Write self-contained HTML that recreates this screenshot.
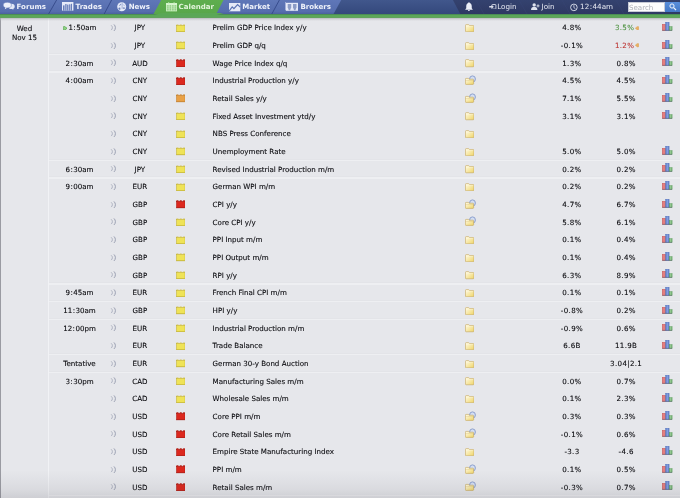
<!DOCTYPE html>
<html><head><meta charset="utf-8"><title>Calendar</title>
<style>
*{margin:0;padding:0;box-sizing:border-box}
html,body{width:680px;height:498px;overflow:hidden;background:#e6e7eb}
body{position:relative;font-family:"DejaVu Sans","Liberation Sans",sans-serif;font-size:7.1px;color:#08080c}
#nav{position:absolute;left:0;top:0;width:680px;height:14px;overflow:hidden}
#nav svg.bg{position:absolute;left:0;top:0}
.nt{position:absolute;top:0.3px;height:14px;line-height:14px;font-weight:bold;font-size:7.05px;color:#eef1fa;white-space:nowrap}
.nr{position:absolute;top:0;height:14px;line-height:14px;font-size:7.2px;color:#e6e9f2;white-space:nowrap}
.ni{position:absolute}
#green{position:absolute;left:0;top:13.6px;width:680px;height:4px;background:linear-gradient(#3f7452,#55a057 22%,#5eaa5a 45%,#5aa456 80%,#6a9f68)}
#shadow{position:absolute;left:0;top:17.6px;width:680px;height:3.9px;background:linear-gradient(rgba(170,170,176,.72),rgba(190,190,196,.45) 45%,rgba(230,231,235,0))}
#lb{position:absolute;left:0;top:17.7px;width:1px;height:481px;background:#9a9ba2}
#vl{position:absolute;left:48px;top:17.7px;width:1.1px;height:481px;background:#f1f2f5}
.date{position:absolute;left:1px;width:47px;top:23.6px;text-align:center;line-height:9.4px;font-size:7.1px;-webkit-text-stroke:0.1px currentColor}
.row{position:absolute;left:49px;width:631px;height:17.67px}
.c{position:absolute;top:0.5px;height:17.67px;line-height:17.67px;white-space:nowrap;-webkit-text-stroke:0.1px currentColor}
.time{left:0.5px;width:60px;text-align:center}
.nx{display:inline-block;width:4.6px;height:4.6px;margin-right:1.3px;vertical-align:-0.1px}
.snd{position:absolute;left:61.3px;top:5.2px}
.cur{left:70.4px;width:41px;text-align:center}
.imp{position:absolute;left:126.7px;top:4.9px}
.ev{left:163.6px}
.fold{position:absolute;left:415.5px;top:5.2px}
.fold.o{left:415.8px;top:3.4px}
.fc{left:502px;width:41.6px;text-align:center;letter-spacing:0.33px;text-indent:0.33px}
.pv{left:557px;width:40px;text-align:center;letter-spacing:0.33px;text-indent:0.33px}
.pv.g{color:#4f9342;padding-left:1.2px}
.pv.r{color:#bd3835;padding-left:1.2px}
.rev{display:inline-block;width:4px;height:4.4px;margin-left:0.4px;vertical-align:0px}
.gr{position:absolute;left:612.9px;top:3.3px}
.sep{position:absolute;left:0;right:0;bottom:-0.9px;height:1.1px;background:#eeeff2;box-shadow:0 -0.6px 0 #e1e2e6}
#lastsep{position:absolute;left:49px;width:631px;top:494.9px;height:1.1px;background:rgba(255,255,255,.35)}
#bfade{position:absolute;left:0;width:680px;top:470px;height:28px;background:linear-gradient(rgba(60,60,70,0),rgba(60,60,70,.04) 40%,rgba(60,60,70,.075) 70%,rgba(60,60,70,.1) 82%,rgba(60,60,70,.14))}
.cl{margin:0 0.42px}
</style></head><body>
<svg width="0" height="0" style="position:absolute"><defs>
<linearGradient id="fg" x1="0" y1="0" x2="1" y2="1"><stop offset="0" stop-color="#fffbe8"/><stop offset="0.4" stop-color="#f9ecb4"/><stop offset="1" stop-color="#efd567"/></linearGradient>
<linearGradient id="gR" x1="0" y1="0" x2="1" y2="0"><stop offset="0" stop-color="#d45c5c"/><stop offset="0.5" stop-color="#eb8c8c"/><stop offset="1" stop-color="#d66464"/></linearGradient>
<linearGradient id="gB" x1="0" y1="0" x2="1" y2="0"><stop offset="0" stop-color="#5478c8"/><stop offset="0.5" stop-color="#86a2e0"/><stop offset="1" stop-color="#5a78c4"/></linearGradient>
<linearGradient id="gG" x1="0" y1="0" x2="1" y2="0"><stop offset="0" stop-color="#62a862"/><stop offset="0.5" stop-color="#98cc96"/><stop offset="1" stop-color="#64a664"/></linearGradient>
</defs></svg>
<div id="nav">
<svg class="bg" width="680" height="14" viewBox="0 0 680 14">
<defs>
<linearGradient id="nb" x1="0" y1="0" x2="0" y2="1"><stop offset="0" stop-color="#5f77b8"/><stop offset="0.82" stop-color="#566dae"/><stop offset="1" stop-color="#4b619f"/></linearGradient>
<linearGradient id="nm" x1="0" y1="0" x2="0" y2="1"><stop offset="0" stop-color="#41578c"/><stop offset="1" stop-color="#34487c"/></linearGradient>
<linearGradient id="nd" x1="0" y1="0" x2="0" y2="1"><stop offset="0" stop-color="#34426f"/><stop offset="1" stop-color="#2e3963"/></linearGradient>
<linearGradient id="ng" x1="0" y1="0" x2="0" y2="1"><stop offset="0" stop-color="#5fae4e"/><stop offset="1" stop-color="#58a64a"/></linearGradient>
</defs>
<rect width="680" height="14" fill="url(#nd)"/>
<polygon points="0,0 452.9,0 460.3,14 0,14" fill="url(#nm)"/>
<polygon points="0,0 341.2,0 333.5,14 0,14" fill="url(#nb)"/>
<polygon points="161.2,0 223.5,0 216.2,14 153.5,14" fill="url(#ng)"/>
<g stroke="#2f4283" stroke-width="0.8">
<line x1="56.6" y1="0" x2="48.6" y2="14"/>
<line x1="111.6" y1="0" x2="104.2" y2="14"/>
<line x1="279.4" y1="0" x2="271.8" y2="14"/>
</g>
<g stroke="#3a4676" stroke-width="0.7" opacity="0.6">
<line x1="476" y1="0" x2="484" y2="14"/>
<line x1="519" y1="0" x2="527" y2="14"/>
<line x1="562" y1="0" x2="570" y2="14"/>
<line x1="616" y1="0" x2="624" y2="14"/>
</g>
</svg>
<!-- Forums icon -->
<svg class="ni" style="left:3.3px;top:2.4px" width="12" height="8" viewBox="0 0 12 8">
<ellipse cx="8.6" cy="4.4" rx="3.1" ry="2.6" fill="#e3e8f6"/>
<path d="M9.6 6.4L10.6 7.7L8.4 6.8Z" fill="#e3e8f6"/>
<ellipse cx="4.3" cy="3.1" rx="4.1" ry="2.8" fill="#edf0fa" stroke="#5f77b8" stroke-width="0.5"/>
<path d="M2.2 5.2L1.8 7.3L4.2 5.8Z" fill="#edf0fa"/>
</svg>
<div class="nt" style="left:16.6px">Forums</div>
<!-- Trades icon -->
<svg class="ni" style="left:61.6px;top:2.4px" width="12" height="9" viewBox="0 0 12 9">
<rect x="0" y="0" width="11.4" height="8.6" fill="#e6eaf8"/>
<g fill="#5a72b3"><rect x="1.1" y="3.4" width="1.4" height="5.2"/><rect x="3.3" y="2.0" width="1.2" height="6.6"/><rect x="5.2" y="2.6" width="1.2" height="6"/><rect x="7.2" y="2.3" width="1.2" height="6.3"/><rect x="9.1" y="1.8" width="0.9" height="6.8"/></g>
</svg>
<div class="nt" style="left:75.6px">Trades</div>
<!-- News globe -->
<svg class="ni" style="left:116.9px;top:2.2px" width="10" height="10" viewBox="0 0 10 10">
<circle cx="4.7" cy="4.8" r="4.5" fill="#e4e9f8"/>
<g fill="#6a7fb8"><path d="M1.4 6.1Q2.3 5.3 3.4 5.8L3.3 7.8Q2.2 7.7 1.6 6.9Z"/><path d="M5.8 5.6Q7 5.2 8.2 5.7L7.9 6.6Q6.8 6.9 5.9 6.5Z"/><path d="M2.2 3.4L3.8 1.7L4.3 2.2L2.7 3.9Z"/></g>
<path d="M5.1 0.8V6.8" stroke="#7a8ec4" stroke-width="0.6"/>
<path d="M5.5 2.2Q7 2.8 7.8 4.2" stroke="#8a9cce" stroke-width="0.5" fill="none"/>
</svg>
<div class="nt" style="left:128.7px">News</div>
<!-- Calendar icon -->
<svg class="ni" style="left:165.8px;top:1.7px" width="11.2" height="10" viewBox="0 0 11.2 10">
<rect x="0" y="1.1" width="11" height="8.3" fill="#c6ecbb"/>
<rect x="0" y="1.1" width="11" height="1.9" fill="#d8f5cf"/>
<rect x="2.2" y="0.2" width="1" height="1.6" fill="#c6ecbb"/><rect x="7.6" y="0.2" width="1" height="1.6" fill="#c6ecbb"/>
<g fill="#7cbf70"><rect x="1.1" y="3.4" width="1.5" height="1.05"/><rect x="3.6" y="3.4" width="1.5" height="1.05"/><rect x="6.1" y="3.4" width="1.5" height="1.05"/><rect x="8.6" y="3.4" width="1.5" height="1.05"/><rect x="1.1" y="5.4" width="1.5" height="1.05"/><rect x="3.6" y="5.4" width="1.5" height="1.05"/><rect x="6.1" y="5.4" width="1.5" height="1.05"/><rect x="8.6" y="5.4" width="1.5" height="1.05"/><rect x="1.1" y="7.3" width="1.5" height="1.05"/><rect x="3.6" y="7.3" width="1.5" height="1.05"/><rect x="6.1" y="7.3" width="1.5" height="1.05"/><rect x="8.6" y="7.3" width="1.5" height="1.05"/></g>
</svg>
<div class="nt" style="left:178.6px;color:#e2f4da">Calendar</div>
<!-- Market icon -->
<svg class="ni" style="left:228.8px;top:2.6px" width="12" height="9" viewBox="0 0 12 9">
<rect x="0" y="0" width="11.3" height="8.3" fill="#e6eaf8"/>
<polyline points="0.2,7.9 3.2,3.9 4.9,5.6 8.6,1.5 11.3,4.2" fill="none" stroke="#5a72b3" stroke-width="1.2"/>
</svg>
<div class="nt" style="left:242.2px">Market</div>
<!-- Brokers icon -->
<svg class="ni" style="left:285.2px;top:2.2px" width="14" height="9" viewBox="0 0 14 9">
<rect x="0" y="0" width="0.6" height="8.2" fill="#c9d1ec"/>
<rect x="0.9" y="0.8" width="12.1" height="8" fill="#e6eaf8"/>
<g fill="#8c9cc6"><path d="M2.7 2H6.2V5.3L5.1 8.2H3.8L2.7 5.3Z"/><path d="M8 2H11.5V5.3L10.4 8.2H9.1L8 5.3Z"/></g>
</svg>
<div class="nt" style="left:300.4px">Brokers</div>
<!-- Bell -->
<svg class="ni" style="left:464.9px;top:1.9px" width="8" height="9.2" viewBox="0 0 9 9" preserveAspectRatio="none">
<path d="M4.4 0.3c-.5 0-.8.3-.8.7-1.6.4-2.2 1.7-2.2 3.2v1.8l-1 1.2v.4h8.2v-.4l-1-1.2v-1.8c0-1.5-.6-2.8-2.2-3.2 0-.4-.3-.7-1-.7z" fill="#eceff8"/>
<path d="M3.4 7.9a1 1 0 0 0 2 0z" fill="#eceff8"/>
</svg>
<!-- Login icon -->
<svg class="ni" style="left:489.2px;top:3.9px" width="7.4" height="5.6" viewBox="0 0 7.4 5.6">
<path d="M3.2 0.5H6.4Q6.9 0.5 6.9 1V4.6Q6.9 5.1 6.4 5.1H3.2" fill="none" stroke="#d9dde9" stroke-width="0.9"/>
<path d="M0.2 2H2.4V0.6L4.8 2.8L2.4 5V3.6H0.2Z" fill="#d9dde9"/>
</svg>
<div class="nr" style="left:497.2px">Login</div>
<!-- Join icon -->
<svg class="ni" style="left:530.8px;top:3.2px" width="9" height="7" viewBox="0 0 9 7">
<circle cx="3.2" cy="1.9" r="1.7" fill="#dfe3ef"/>
<path d="M0 7c0-2.2 1.4-3.2 3.2-3.2s3.2 1 3.2 3.2z" fill="#dfe3ef"/>
<path d="M7 1.4v3M5.5 2.9h3" stroke="#dfe3ef" stroke-width="0.9"/>
</svg>
<div class="nr" style="left:541.6px">Join</div>
<!-- Clock -->
<svg class="ni" style="left:570.4px;top:2.6px" width="8" height="9" viewBox="0 0 8 9">
<circle cx="3.9" cy="4.4" r="3.3" fill="none" stroke="#dfe3ef" stroke-width="0.9"/>
<path d="M3.9 2.2v2.4l1.5 1.1" fill="none" stroke="#dfe3ef" stroke-width="0.8"/>
</svg>
<div class="nr" style="left:580.1px">12<span class="cl">:</span>44am</div>
<!-- Search -->
<div style="position:absolute;left:627.6px;top:1.8px;width:37.2px;height:9.9px;background:#fdfdfd;border:0.5px solid #c8cbd6"></div>
<div style="position:absolute;left:629px;top:2.6px;height:9.7px;line-height:9.7px;font-size:7.1px;color:#aeb0b8">Search</div>
<div style="position:absolute;left:665.4px;top:1.8px;width:16px;height:9.9px;background:linear-gradient(#5a8fdc,#4377c6);border-radius:0 2px 2px 0"></div>
<svg class="ni" style="left:668.6px;top:2.8px" width="8" height="8" viewBox="0 0 8 8">
<circle cx="3" cy="3" r="2.1" fill="none" stroke="#f0f4fc" stroke-width="1"/>
<path d="M4.6 4.6l2.4 2.4" stroke="#f0f4fc" stroke-width="1.2"/>
</svg>
</div>
<div id="green"></div>
<svg style="position:absolute;left:0;top:0" width="680" height="16" viewBox="0 0 680 16"><polygon points="161.2,13 223.5,13 215.7,15.2 153.4,15.2" fill="#5aa755"/></svg>
<div id="lb"></div>
<div id="vl"></div>
<div class="date">Wed<br>Nov 15</div>
<div class="row" style="top:18.66px"><div class="c time"><svg class="nx" viewBox="0 0 5 5"><path d="M0.7 0.5H1.6L4.5 2.5L1.6 4.5H0.7Z" fill="#98d68c" stroke="#4fa646" stroke-width="0.8" stroke-linejoin="round"/></svg>1<span class="cl">:</span>50am</div><svg class="snd" width="6.5" height="7.4" viewBox="0 0 6.5 7.4"><path d="M1.15 1.3A3 3 0 0 1 1.15 6.1" fill="none" stroke="#a0a5b6" stroke-width="0.8"/><path d="M3.94 0.43A4.4 4.4 0 0 1 3.94 6.97" fill="none" stroke="#959bae" stroke-width="0.95"/></svg><div class="c cur">JPY</div><svg class="imp" width="9.6" height="8.4" viewBox="0 0 9.6 8.4"><g fill="#efe357" stroke="#bdaa2e" stroke-width="0.45" opacity="0.55"><path d="M0.5 1.6V0.9Q0.5 0.5 0.9 0.5H2Q2.4 0.5 2.4 0.9V1.6Z"/><path d="M3.8 1.6V0.9Q3.8 0.5 4.2 0.5H5.3Q5.7 0.5 5.7 0.9V1.6Z"/><path d="M7.1 1.6V0.9Q7.1 0.5 7.5 0.5H8.6Q9 0.5 9 0.9V1.6Z"/></g><rect x="0.45" y="1.35" width="8.6" height="6.55" fill="#efe357" stroke="#bdaa2e" stroke-width="0.5"/><rect x="0.7" y="7.2" width="8.1" height="0.6" fill="#bdaa2e" opacity="0.6"/></svg><div class="c ev">Prelim GDP Price Index y/y</div><svg class="fold" width="9.6" height="8.4" viewBox="0 0 10 8.4" preserveAspectRatio="none"><path d="M1.3 0.6H3.6Q4 0.6 4.3 1L4.7 1.5H8.4Q9.3 1.5 9.3 2.4V7Q9.3 7.8 8.4 7.8H1.3Q0.5 7.8 0.5 7V1.4Q0.5 0.6 1.3 0.6Z" fill="url(#fg)" stroke="#c2a259" stroke-width="0.6"/><path d="M1.2 2.2H8.6" stroke="#fffbe8" stroke-width="0.5" opacity="0.7"/></svg><div class="c fc">4.8%</div><div class="c pv g">3.5%<svg class="rev" viewBox="0 0 4.3 4.6"><path d="M0.3 2.3L2.5 0.4H3.3Q4 0.4 4 1.1V3.5Q4 4.2 3.3 4.2H2.5Z" fill="#e9b061" stroke="#d4974a" stroke-width="0.4"/></svg></div><svg class="gr" width="11" height="9" viewBox="0 0 11 9"><rect x="0.35" y="2.2" width="3.2" height="6.3" fill="url(#gR)" stroke="#c04848" stroke-width="0.35"/><rect x="3.6" y="0.1" width="3.5" height="8.4" fill="url(#gB)" stroke="#4a68b4" stroke-width="0.35"/><rect x="7.2" y="4.5" width="2.9" height="4" fill="url(#gG)" stroke="#4f944f" stroke-width="0.35"/><rect x="0.2" y="7.9" width="10" height="0.8" fill="#3c3f55" opacity="0.5"/></svg></div>
<div class="row" style="top:36.33px"><svg class="snd" width="6.5" height="7.4" viewBox="0 0 6.5 7.4"><path d="M1.15 1.3A3 3 0 0 1 1.15 6.1" fill="none" stroke="#a0a5b6" stroke-width="0.8"/><path d="M3.94 0.43A4.4 4.4 0 0 1 3.94 6.97" fill="none" stroke="#959bae" stroke-width="0.95"/></svg><div class="c cur">JPY</div><svg class="imp" width="9.6" height="8.4" viewBox="0 0 9.6 8.4"><g fill="#efe357" stroke="#bdaa2e" stroke-width="0.45" opacity="0.55"><path d="M0.5 1.6V0.9Q0.5 0.5 0.9 0.5H2Q2.4 0.5 2.4 0.9V1.6Z"/><path d="M3.8 1.6V0.9Q3.8 0.5 4.2 0.5H5.3Q5.7 0.5 5.7 0.9V1.6Z"/><path d="M7.1 1.6V0.9Q7.1 0.5 7.5 0.5H8.6Q9 0.5 9 0.9V1.6Z"/></g><rect x="0.45" y="1.35" width="8.6" height="6.55" fill="#efe357" stroke="#bdaa2e" stroke-width="0.5"/><rect x="0.7" y="7.2" width="8.1" height="0.6" fill="#bdaa2e" opacity="0.6"/></svg><div class="c ev">Prelim GDP q/q</div><svg class="fold" width="9.6" height="8.4" viewBox="0 0 10 8.4" preserveAspectRatio="none"><path d="M1.3 0.6H3.6Q4 0.6 4.3 1L4.7 1.5H8.4Q9.3 1.5 9.3 2.4V7Q9.3 7.8 8.4 7.8H1.3Q0.5 7.8 0.5 7V1.4Q0.5 0.6 1.3 0.6Z" fill="url(#fg)" stroke="#c2a259" stroke-width="0.6"/><path d="M1.2 2.2H8.6" stroke="#fffbe8" stroke-width="0.5" opacity="0.7"/></svg><div class="c fc">-0.1%</div><div class="c pv r">1.2%<svg class="rev" viewBox="0 0 4.3 4.6"><path d="M0.3 2.3L2.5 0.4H3.3Q4 0.4 4 1.1V3.5Q4 4.2 3.3 4.2H2.5Z" fill="#e9b061" stroke="#d4974a" stroke-width="0.4"/></svg></div><svg class="gr" width="11" height="9" viewBox="0 0 11 9"><rect x="0.35" y="2.2" width="3.2" height="6.3" fill="url(#gR)" stroke="#c04848" stroke-width="0.35"/><rect x="3.6" y="0.1" width="3.5" height="8.4" fill="url(#gB)" stroke="#4a68b4" stroke-width="0.35"/><rect x="7.2" y="4.5" width="2.9" height="4" fill="url(#gG)" stroke="#4f944f" stroke-width="0.35"/><rect x="0.2" y="7.9" width="10" height="0.8" fill="#3c3f55" opacity="0.5"/></svg><div class="sep"></div></div>
<div class="row" style="top:54.00px"><div class="c time">2<span class="cl">:</span>30am</div><svg class="snd" width="6.5" height="7.4" viewBox="0 0 6.5 7.4"><path d="M1.15 1.3A3 3 0 0 1 1.15 6.1" fill="none" stroke="#a0a5b6" stroke-width="0.8"/><path d="M3.94 0.43A4.4 4.4 0 0 1 3.94 6.97" fill="none" stroke="#959bae" stroke-width="0.95"/></svg><div class="c cur">AUD</div><svg class="imp" width="9.6" height="8.4" viewBox="0 0 9.6 8.4"><g fill="#dc281e" stroke="#a3160e" stroke-width="0.45" opacity="1"><path d="M0.5 1.6V0.9Q0.5 0.5 0.9 0.5H2Q2.4 0.5 2.4 0.9V1.6Z"/><path d="M3.8 1.6V0.9Q3.8 0.5 4.2 0.5H5.3Q5.7 0.5 5.7 0.9V1.6Z"/><path d="M7.1 1.6V0.9Q7.1 0.5 7.5 0.5H8.6Q9 0.5 9 0.9V1.6Z"/></g><rect x="0.45" y="1.35" width="8.6" height="6.55" fill="#dc281e" stroke="#a3160e" stroke-width="0.5"/><rect x="0.7" y="7.2" width="8.1" height="0.6" fill="#a3160e" opacity="0.6"/></svg><div class="c ev">Wage Price Index q/q</div><svg class="fold" width="9.6" height="8.4" viewBox="0 0 10 8.4" preserveAspectRatio="none"><path d="M1.3 0.6H3.6Q4 0.6 4.3 1L4.7 1.5H8.4Q9.3 1.5 9.3 2.4V7Q9.3 7.8 8.4 7.8H1.3Q0.5 7.8 0.5 7V1.4Q0.5 0.6 1.3 0.6Z" fill="url(#fg)" stroke="#c2a259" stroke-width="0.6"/><path d="M1.2 2.2H8.6" stroke="#fffbe8" stroke-width="0.5" opacity="0.7"/></svg><div class="c fc">1.3%</div><div class="c pv">0.8%</div><svg class="gr" width="11" height="9" viewBox="0 0 11 9"><rect x="0.35" y="2.2" width="3.2" height="6.3" fill="url(#gR)" stroke="#c04848" stroke-width="0.35"/><rect x="3.6" y="0.1" width="3.5" height="8.4" fill="url(#gB)" stroke="#4a68b4" stroke-width="0.35"/><rect x="7.2" y="4.5" width="2.9" height="4" fill="url(#gG)" stroke="#4f944f" stroke-width="0.35"/><rect x="0.2" y="7.9" width="10" height="0.8" fill="#3c3f55" opacity="0.5"/></svg><div class="sep"></div></div>
<div class="row" style="top:71.67px"><div class="c time">4<span class="cl">:</span>00am</div><svg class="snd" width="6.5" height="7.4" viewBox="0 0 6.5 7.4"><path d="M1.15 1.3A3 3 0 0 1 1.15 6.1" fill="none" stroke="#a0a5b6" stroke-width="0.8"/><path d="M3.94 0.43A4.4 4.4 0 0 1 3.94 6.97" fill="none" stroke="#959bae" stroke-width="0.95"/></svg><div class="c cur">CNY</div><svg class="imp" width="9.6" height="8.4" viewBox="0 0 9.6 8.4"><g fill="#dc281e" stroke="#a3160e" stroke-width="0.45" opacity="1"><path d="M0.5 1.6V0.9Q0.5 0.5 0.9 0.5H2Q2.4 0.5 2.4 0.9V1.6Z"/><path d="M3.8 1.6V0.9Q3.8 0.5 4.2 0.5H5.3Q5.7 0.5 5.7 0.9V1.6Z"/><path d="M7.1 1.6V0.9Q7.1 0.5 7.5 0.5H8.6Q9 0.5 9 0.9V1.6Z"/></g><rect x="0.45" y="1.35" width="8.6" height="6.55" fill="#dc281e" stroke="#a3160e" stroke-width="0.5"/><rect x="0.7" y="7.2" width="8.1" height="0.6" fill="#a3160e" opacity="0.6"/></svg><div class="c ev">Industrial Production y/y</div><svg class="fold o" width="11" height="10" viewBox="0 0 11 10"><ellipse cx="7.5" cy="4" rx="2.9" ry="3.1" fill="#d3def3" stroke="#8399c8" stroke-width="0.9"/><path d="M1.1 3.4H3.2Q3.6 3.4 3.9 3.8L4.2 4.2H7.8Q8.6 4.2 8.6 5V8.7Q8.6 9.4 7.8 9.4H1.1Q0.4 9.4 0.4 8.7V4.1Q0.4 3.4 1.1 3.4Z" fill="url(#fg)" stroke="#c2a259" stroke-width="0.6"/><path d="M0.6 5.6H8.4" stroke="#c2a259" stroke-width="0.4" opacity="0.6"/></svg><div class="c fc">4.5%</div><div class="c pv">4.5%</div><svg class="gr" width="11" height="9" viewBox="0 0 11 9"><rect x="0.35" y="2.2" width="3.2" height="6.3" fill="url(#gR)" stroke="#c04848" stroke-width="0.35"/><rect x="3.6" y="0.1" width="3.5" height="8.4" fill="url(#gB)" stroke="#4a68b4" stroke-width="0.35"/><rect x="7.2" y="4.5" width="2.9" height="4" fill="url(#gG)" stroke="#4f944f" stroke-width="0.35"/><rect x="0.2" y="7.9" width="10" height="0.8" fill="#3c3f55" opacity="0.5"/></svg></div>
<div class="row" style="top:89.34px"><svg class="snd" width="6.5" height="7.4" viewBox="0 0 6.5 7.4"><path d="M1.15 1.3A3 3 0 0 1 1.15 6.1" fill="none" stroke="#a0a5b6" stroke-width="0.8"/><path d="M3.94 0.43A4.4 4.4 0 0 1 3.94 6.97" fill="none" stroke="#959bae" stroke-width="0.95"/></svg><div class="c cur">CNY</div><svg class="imp" width="9.6" height="8.4" viewBox="0 0 9.6 8.4"><g fill="#e9a145" stroke="#bb7826" stroke-width="0.45" opacity="0.8"><path d="M0.5 1.6V0.9Q0.5 0.5 0.9 0.5H2Q2.4 0.5 2.4 0.9V1.6Z"/><path d="M3.8 1.6V0.9Q3.8 0.5 4.2 0.5H5.3Q5.7 0.5 5.7 0.9V1.6Z"/><path d="M7.1 1.6V0.9Q7.1 0.5 7.5 0.5H8.6Q9 0.5 9 0.9V1.6Z"/></g><rect x="0.45" y="1.35" width="8.6" height="6.55" fill="#e9a145" stroke="#bb7826" stroke-width="0.5"/><rect x="0.7" y="7.2" width="8.1" height="0.6" fill="#bb7826" opacity="0.6"/></svg><div class="c ev">Retail Sales y/y</div><svg class="fold o" width="11" height="10" viewBox="0 0 11 10"><ellipse cx="7.5" cy="4" rx="2.9" ry="3.1" fill="#d3def3" stroke="#8399c8" stroke-width="0.9"/><path d="M1.1 3.4H3.2Q3.6 3.4 3.9 3.8L4.2 4.2H7.8Q8.6 4.2 8.6 5V8.7Q8.6 9.4 7.8 9.4H1.1Q0.4 9.4 0.4 8.7V4.1Q0.4 3.4 1.1 3.4Z" fill="url(#fg)" stroke="#c2a259" stroke-width="0.6"/><path d="M0.6 5.6H8.4" stroke="#c2a259" stroke-width="0.4" opacity="0.6"/></svg><div class="c fc">7.1%</div><div class="c pv">5.5%</div><svg class="gr" width="11" height="9" viewBox="0 0 11 9"><rect x="0.35" y="2.2" width="3.2" height="6.3" fill="url(#gR)" stroke="#c04848" stroke-width="0.35"/><rect x="3.6" y="0.1" width="3.5" height="8.4" fill="url(#gB)" stroke="#4a68b4" stroke-width="0.35"/><rect x="7.2" y="4.5" width="2.9" height="4" fill="url(#gG)" stroke="#4f944f" stroke-width="0.35"/><rect x="0.2" y="7.9" width="10" height="0.8" fill="#3c3f55" opacity="0.5"/></svg></div>
<div class="row" style="top:107.01px"><svg class="snd" width="6.5" height="7.4" viewBox="0 0 6.5 7.4"><path d="M1.15 1.3A3 3 0 0 1 1.15 6.1" fill="none" stroke="#a0a5b6" stroke-width="0.8"/><path d="M3.94 0.43A4.4 4.4 0 0 1 3.94 6.97" fill="none" stroke="#959bae" stroke-width="0.95"/></svg><div class="c cur">CNY</div><svg class="imp" width="9.6" height="8.4" viewBox="0 0 9.6 8.4"><g fill="#efe357" stroke="#bdaa2e" stroke-width="0.45" opacity="0.55"><path d="M0.5 1.6V0.9Q0.5 0.5 0.9 0.5H2Q2.4 0.5 2.4 0.9V1.6Z"/><path d="M3.8 1.6V0.9Q3.8 0.5 4.2 0.5H5.3Q5.7 0.5 5.7 0.9V1.6Z"/><path d="M7.1 1.6V0.9Q7.1 0.5 7.5 0.5H8.6Q9 0.5 9 0.9V1.6Z"/></g><rect x="0.45" y="1.35" width="8.6" height="6.55" fill="#efe357" stroke="#bdaa2e" stroke-width="0.5"/><rect x="0.7" y="7.2" width="8.1" height="0.6" fill="#bdaa2e" opacity="0.6"/></svg><div class="c ev">Fixed Asset Investment ytd/y</div><svg class="fold" width="9.6" height="8.4" viewBox="0 0 10 8.4" preserveAspectRatio="none"><path d="M1.3 0.6H3.6Q4 0.6 4.3 1L4.7 1.5H8.4Q9.3 1.5 9.3 2.4V7Q9.3 7.8 8.4 7.8H1.3Q0.5 7.8 0.5 7V1.4Q0.5 0.6 1.3 0.6Z" fill="url(#fg)" stroke="#c2a259" stroke-width="0.6"/><path d="M1.2 2.2H8.6" stroke="#fffbe8" stroke-width="0.5" opacity="0.7"/></svg><div class="c fc">3.1%</div><div class="c pv">3.1%</div><svg class="gr" width="11" height="9" viewBox="0 0 11 9"><rect x="0.35" y="2.2" width="3.2" height="6.3" fill="url(#gR)" stroke="#c04848" stroke-width="0.35"/><rect x="3.6" y="0.1" width="3.5" height="8.4" fill="url(#gB)" stroke="#4a68b4" stroke-width="0.35"/><rect x="7.2" y="4.5" width="2.9" height="4" fill="url(#gG)" stroke="#4f944f" stroke-width="0.35"/><rect x="0.2" y="7.9" width="10" height="0.8" fill="#3c3f55" opacity="0.5"/></svg></div>
<div class="row" style="top:124.68px"><svg class="snd" width="6.5" height="7.4" viewBox="0 0 6.5 7.4"><path d="M1.15 1.3A3 3 0 0 1 1.15 6.1" fill="none" stroke="#a0a5b6" stroke-width="0.8"/><path d="M3.94 0.43A4.4 4.4 0 0 1 3.94 6.97" fill="none" stroke="#959bae" stroke-width="0.95"/></svg><div class="c cur">CNY</div><svg class="imp" width="9.6" height="8.4" viewBox="0 0 9.6 8.4"><g fill="#efe357" stroke="#bdaa2e" stroke-width="0.45" opacity="0.55"><path d="M0.5 1.6V0.9Q0.5 0.5 0.9 0.5H2Q2.4 0.5 2.4 0.9V1.6Z"/><path d="M3.8 1.6V0.9Q3.8 0.5 4.2 0.5H5.3Q5.7 0.5 5.7 0.9V1.6Z"/><path d="M7.1 1.6V0.9Q7.1 0.5 7.5 0.5H8.6Q9 0.5 9 0.9V1.6Z"/></g><rect x="0.45" y="1.35" width="8.6" height="6.55" fill="#efe357" stroke="#bdaa2e" stroke-width="0.5"/><rect x="0.7" y="7.2" width="8.1" height="0.6" fill="#bdaa2e" opacity="0.6"/></svg><div class="c ev">NBS Press Conference</div><svg class="fold" width="9.6" height="8.4" viewBox="0 0 10 8.4" preserveAspectRatio="none"><path d="M1.3 0.6H3.6Q4 0.6 4.3 1L4.7 1.5H8.4Q9.3 1.5 9.3 2.4V7Q9.3 7.8 8.4 7.8H1.3Q0.5 7.8 0.5 7V1.4Q0.5 0.6 1.3 0.6Z" fill="url(#fg)" stroke="#c2a259" stroke-width="0.6"/><path d="M1.2 2.2H8.6" stroke="#fffbe8" stroke-width="0.5" opacity="0.7"/></svg></div>
<div class="row" style="top:142.35px"><svg class="snd" width="6.5" height="7.4" viewBox="0 0 6.5 7.4"><path d="M1.15 1.3A3 3 0 0 1 1.15 6.1" fill="none" stroke="#a0a5b6" stroke-width="0.8"/><path d="M3.94 0.43A4.4 4.4 0 0 1 3.94 6.97" fill="none" stroke="#959bae" stroke-width="0.95"/></svg><div class="c cur">CNY</div><svg class="imp" width="9.6" height="8.4" viewBox="0 0 9.6 8.4"><g fill="#efe357" stroke="#bdaa2e" stroke-width="0.45" opacity="0.55"><path d="M0.5 1.6V0.9Q0.5 0.5 0.9 0.5H2Q2.4 0.5 2.4 0.9V1.6Z"/><path d="M3.8 1.6V0.9Q3.8 0.5 4.2 0.5H5.3Q5.7 0.5 5.7 0.9V1.6Z"/><path d="M7.1 1.6V0.9Q7.1 0.5 7.5 0.5H8.6Q9 0.5 9 0.9V1.6Z"/></g><rect x="0.45" y="1.35" width="8.6" height="6.55" fill="#efe357" stroke="#bdaa2e" stroke-width="0.5"/><rect x="0.7" y="7.2" width="8.1" height="0.6" fill="#bdaa2e" opacity="0.6"/></svg><div class="c ev">Unemployment Rate</div><svg class="fold" width="9.6" height="8.4" viewBox="0 0 10 8.4" preserveAspectRatio="none"><path d="M1.3 0.6H3.6Q4 0.6 4.3 1L4.7 1.5H8.4Q9.3 1.5 9.3 2.4V7Q9.3 7.8 8.4 7.8H1.3Q0.5 7.8 0.5 7V1.4Q0.5 0.6 1.3 0.6Z" fill="url(#fg)" stroke="#c2a259" stroke-width="0.6"/><path d="M1.2 2.2H8.6" stroke="#fffbe8" stroke-width="0.5" opacity="0.7"/></svg><div class="c fc">5.0%</div><div class="c pv">5.0%</div><svg class="gr" width="11" height="9" viewBox="0 0 11 9"><rect x="0.35" y="2.2" width="3.2" height="6.3" fill="url(#gR)" stroke="#c04848" stroke-width="0.35"/><rect x="3.6" y="0.1" width="3.5" height="8.4" fill="url(#gB)" stroke="#4a68b4" stroke-width="0.35"/><rect x="7.2" y="4.5" width="2.9" height="4" fill="url(#gG)" stroke="#4f944f" stroke-width="0.35"/><rect x="0.2" y="7.9" width="10" height="0.8" fill="#3c3f55" opacity="0.5"/></svg><div class="sep"></div></div>
<div class="row" style="top:160.02px"><div class="c time">6<span class="cl">:</span>30am</div><svg class="snd" width="6.5" height="7.4" viewBox="0 0 6.5 7.4"><path d="M1.15 1.3A3 3 0 0 1 1.15 6.1" fill="none" stroke="#a0a5b6" stroke-width="0.8"/><path d="M3.94 0.43A4.4 4.4 0 0 1 3.94 6.97" fill="none" stroke="#959bae" stroke-width="0.95"/></svg><div class="c cur">JPY</div><svg class="imp" width="9.6" height="8.4" viewBox="0 0 9.6 8.4"><g fill="#efe357" stroke="#bdaa2e" stroke-width="0.45" opacity="0.55"><path d="M0.5 1.6V0.9Q0.5 0.5 0.9 0.5H2Q2.4 0.5 2.4 0.9V1.6Z"/><path d="M3.8 1.6V0.9Q3.8 0.5 4.2 0.5H5.3Q5.7 0.5 5.7 0.9V1.6Z"/><path d="M7.1 1.6V0.9Q7.1 0.5 7.5 0.5H8.6Q9 0.5 9 0.9V1.6Z"/></g><rect x="0.45" y="1.35" width="8.6" height="6.55" fill="#efe357" stroke="#bdaa2e" stroke-width="0.5"/><rect x="0.7" y="7.2" width="8.1" height="0.6" fill="#bdaa2e" opacity="0.6"/></svg><div class="c ev">Revised Industrial Production m/m</div><svg class="fold" width="9.6" height="8.4" viewBox="0 0 10 8.4" preserveAspectRatio="none"><path d="M1.3 0.6H3.6Q4 0.6 4.3 1L4.7 1.5H8.4Q9.3 1.5 9.3 2.4V7Q9.3 7.8 8.4 7.8H1.3Q0.5 7.8 0.5 7V1.4Q0.5 0.6 1.3 0.6Z" fill="url(#fg)" stroke="#c2a259" stroke-width="0.6"/><path d="M1.2 2.2H8.6" stroke="#fffbe8" stroke-width="0.5" opacity="0.7"/></svg><div class="c fc">0.2%</div><div class="c pv">0.2%</div><svg class="gr" width="11" height="9" viewBox="0 0 11 9"><rect x="0.35" y="2.2" width="3.2" height="6.3" fill="url(#gR)" stroke="#c04848" stroke-width="0.35"/><rect x="3.6" y="0.1" width="3.5" height="8.4" fill="url(#gB)" stroke="#4a68b4" stroke-width="0.35"/><rect x="7.2" y="4.5" width="2.9" height="4" fill="url(#gG)" stroke="#4f944f" stroke-width="0.35"/><rect x="0.2" y="7.9" width="10" height="0.8" fill="#3c3f55" opacity="0.5"/></svg><div class="sep"></div></div>
<div class="row" style="top:177.69px"><div class="c time">9<span class="cl">:</span>00am</div><svg class="snd" width="6.5" height="7.4" viewBox="0 0 6.5 7.4"><path d="M1.15 1.3A3 3 0 0 1 1.15 6.1" fill="none" stroke="#a0a5b6" stroke-width="0.8"/><path d="M3.94 0.43A4.4 4.4 0 0 1 3.94 6.97" fill="none" stroke="#959bae" stroke-width="0.95"/></svg><div class="c cur">EUR</div><svg class="imp" width="9.6" height="8.4" viewBox="0 0 9.6 8.4"><g fill="#efe357" stroke="#bdaa2e" stroke-width="0.45" opacity="0.55"><path d="M0.5 1.6V0.9Q0.5 0.5 0.9 0.5H2Q2.4 0.5 2.4 0.9V1.6Z"/><path d="M3.8 1.6V0.9Q3.8 0.5 4.2 0.5H5.3Q5.7 0.5 5.7 0.9V1.6Z"/><path d="M7.1 1.6V0.9Q7.1 0.5 7.5 0.5H8.6Q9 0.5 9 0.9V1.6Z"/></g><rect x="0.45" y="1.35" width="8.6" height="6.55" fill="#efe357" stroke="#bdaa2e" stroke-width="0.5"/><rect x="0.7" y="7.2" width="8.1" height="0.6" fill="#bdaa2e" opacity="0.6"/></svg><div class="c ev">German WPI m/m</div><svg class="fold" width="9.6" height="8.4" viewBox="0 0 10 8.4" preserveAspectRatio="none"><path d="M1.3 0.6H3.6Q4 0.6 4.3 1L4.7 1.5H8.4Q9.3 1.5 9.3 2.4V7Q9.3 7.8 8.4 7.8H1.3Q0.5 7.8 0.5 7V1.4Q0.5 0.6 1.3 0.6Z" fill="url(#fg)" stroke="#c2a259" stroke-width="0.6"/><path d="M1.2 2.2H8.6" stroke="#fffbe8" stroke-width="0.5" opacity="0.7"/></svg><div class="c fc">0.2%</div><div class="c pv">0.2%</div><svg class="gr" width="11" height="9" viewBox="0 0 11 9"><rect x="0.35" y="2.2" width="3.2" height="6.3" fill="url(#gR)" stroke="#c04848" stroke-width="0.35"/><rect x="3.6" y="0.1" width="3.5" height="8.4" fill="url(#gB)" stroke="#4a68b4" stroke-width="0.35"/><rect x="7.2" y="4.5" width="2.9" height="4" fill="url(#gG)" stroke="#4f944f" stroke-width="0.35"/><rect x="0.2" y="7.9" width="10" height="0.8" fill="#3c3f55" opacity="0.5"/></svg></div>
<div class="row" style="top:195.36px"><svg class="snd" width="6.5" height="7.4" viewBox="0 0 6.5 7.4"><path d="M1.15 1.3A3 3 0 0 1 1.15 6.1" fill="none" stroke="#a0a5b6" stroke-width="0.8"/><path d="M3.94 0.43A4.4 4.4 0 0 1 3.94 6.97" fill="none" stroke="#959bae" stroke-width="0.95"/></svg><div class="c cur">GBP</div><svg class="imp" width="9.6" height="8.4" viewBox="0 0 9.6 8.4"><g fill="#dc281e" stroke="#a3160e" stroke-width="0.45" opacity="1"><path d="M0.5 1.6V0.9Q0.5 0.5 0.9 0.5H2Q2.4 0.5 2.4 0.9V1.6Z"/><path d="M3.8 1.6V0.9Q3.8 0.5 4.2 0.5H5.3Q5.7 0.5 5.7 0.9V1.6Z"/><path d="M7.1 1.6V0.9Q7.1 0.5 7.5 0.5H8.6Q9 0.5 9 0.9V1.6Z"/></g><rect x="0.45" y="1.35" width="8.6" height="6.55" fill="#dc281e" stroke="#a3160e" stroke-width="0.5"/><rect x="0.7" y="7.2" width="8.1" height="0.6" fill="#a3160e" opacity="0.6"/></svg><div class="c ev">CPI y/y</div><svg class="fold o" width="11" height="10" viewBox="0 0 11 10"><ellipse cx="7.5" cy="4" rx="2.9" ry="3.1" fill="#d3def3" stroke="#8399c8" stroke-width="0.9"/><path d="M1.1 3.4H3.2Q3.6 3.4 3.9 3.8L4.2 4.2H7.8Q8.6 4.2 8.6 5V8.7Q8.6 9.4 7.8 9.4H1.1Q0.4 9.4 0.4 8.7V4.1Q0.4 3.4 1.1 3.4Z" fill="url(#fg)" stroke="#c2a259" stroke-width="0.6"/><path d="M0.6 5.6H8.4" stroke="#c2a259" stroke-width="0.4" opacity="0.6"/></svg><div class="c fc">4.7%</div><div class="c pv">6.7%</div><svg class="gr" width="11" height="9" viewBox="0 0 11 9"><rect x="0.35" y="2.2" width="3.2" height="6.3" fill="url(#gR)" stroke="#c04848" stroke-width="0.35"/><rect x="3.6" y="0.1" width="3.5" height="8.4" fill="url(#gB)" stroke="#4a68b4" stroke-width="0.35"/><rect x="7.2" y="4.5" width="2.9" height="4" fill="url(#gG)" stroke="#4f944f" stroke-width="0.35"/><rect x="0.2" y="7.9" width="10" height="0.8" fill="#3c3f55" opacity="0.5"/></svg></div>
<div class="row" style="top:213.03px"><svg class="snd" width="6.5" height="7.4" viewBox="0 0 6.5 7.4"><path d="M1.15 1.3A3 3 0 0 1 1.15 6.1" fill="none" stroke="#a0a5b6" stroke-width="0.8"/><path d="M3.94 0.43A4.4 4.4 0 0 1 3.94 6.97" fill="none" stroke="#959bae" stroke-width="0.95"/></svg><div class="c cur">GBP</div><svg class="imp" width="9.6" height="8.4" viewBox="0 0 9.6 8.4"><g fill="#efe357" stroke="#bdaa2e" stroke-width="0.45" opacity="0.55"><path d="M0.5 1.6V0.9Q0.5 0.5 0.9 0.5H2Q2.4 0.5 2.4 0.9V1.6Z"/><path d="M3.8 1.6V0.9Q3.8 0.5 4.2 0.5H5.3Q5.7 0.5 5.7 0.9V1.6Z"/><path d="M7.1 1.6V0.9Q7.1 0.5 7.5 0.5H8.6Q9 0.5 9 0.9V1.6Z"/></g><rect x="0.45" y="1.35" width="8.6" height="6.55" fill="#efe357" stroke="#bdaa2e" stroke-width="0.5"/><rect x="0.7" y="7.2" width="8.1" height="0.6" fill="#bdaa2e" opacity="0.6"/></svg><div class="c ev">Core CPI y/y</div><svg class="fold o" width="11" height="10" viewBox="0 0 11 10"><ellipse cx="7.5" cy="4" rx="2.9" ry="3.1" fill="#d3def3" stroke="#8399c8" stroke-width="0.9"/><path d="M1.1 3.4H3.2Q3.6 3.4 3.9 3.8L4.2 4.2H7.8Q8.6 4.2 8.6 5V8.7Q8.6 9.4 7.8 9.4H1.1Q0.4 9.4 0.4 8.7V4.1Q0.4 3.4 1.1 3.4Z" fill="url(#fg)" stroke="#c2a259" stroke-width="0.6"/><path d="M0.6 5.6H8.4" stroke="#c2a259" stroke-width="0.4" opacity="0.6"/></svg><div class="c fc">5.8%</div><div class="c pv">6.1%</div><svg class="gr" width="11" height="9" viewBox="0 0 11 9"><rect x="0.35" y="2.2" width="3.2" height="6.3" fill="url(#gR)" stroke="#c04848" stroke-width="0.35"/><rect x="3.6" y="0.1" width="3.5" height="8.4" fill="url(#gB)" stroke="#4a68b4" stroke-width="0.35"/><rect x="7.2" y="4.5" width="2.9" height="4" fill="url(#gG)" stroke="#4f944f" stroke-width="0.35"/><rect x="0.2" y="7.9" width="10" height="0.8" fill="#3c3f55" opacity="0.5"/></svg></div>
<div class="row" style="top:230.70px"><svg class="snd" width="6.5" height="7.4" viewBox="0 0 6.5 7.4"><path d="M1.15 1.3A3 3 0 0 1 1.15 6.1" fill="none" stroke="#a0a5b6" stroke-width="0.8"/><path d="M3.94 0.43A4.4 4.4 0 0 1 3.94 6.97" fill="none" stroke="#959bae" stroke-width="0.95"/></svg><div class="c cur">GBP</div><svg class="imp" width="9.6" height="8.4" viewBox="0 0 9.6 8.4"><g fill="#efe357" stroke="#bdaa2e" stroke-width="0.45" opacity="0.55"><path d="M0.5 1.6V0.9Q0.5 0.5 0.9 0.5H2Q2.4 0.5 2.4 0.9V1.6Z"/><path d="M3.8 1.6V0.9Q3.8 0.5 4.2 0.5H5.3Q5.7 0.5 5.7 0.9V1.6Z"/><path d="M7.1 1.6V0.9Q7.1 0.5 7.5 0.5H8.6Q9 0.5 9 0.9V1.6Z"/></g><rect x="0.45" y="1.35" width="8.6" height="6.55" fill="#efe357" stroke="#bdaa2e" stroke-width="0.5"/><rect x="0.7" y="7.2" width="8.1" height="0.6" fill="#bdaa2e" opacity="0.6"/></svg><div class="c ev">PPI Input m/m</div><svg class="fold" width="9.6" height="8.4" viewBox="0 0 10 8.4" preserveAspectRatio="none"><path d="M1.3 0.6H3.6Q4 0.6 4.3 1L4.7 1.5H8.4Q9.3 1.5 9.3 2.4V7Q9.3 7.8 8.4 7.8H1.3Q0.5 7.8 0.5 7V1.4Q0.5 0.6 1.3 0.6Z" fill="url(#fg)" stroke="#c2a259" stroke-width="0.6"/><path d="M1.2 2.2H8.6" stroke="#fffbe8" stroke-width="0.5" opacity="0.7"/></svg><div class="c fc">0.1%</div><div class="c pv">0.4%</div><svg class="gr" width="11" height="9" viewBox="0 0 11 9"><rect x="0.35" y="2.2" width="3.2" height="6.3" fill="url(#gR)" stroke="#c04848" stroke-width="0.35"/><rect x="3.6" y="0.1" width="3.5" height="8.4" fill="url(#gB)" stroke="#4a68b4" stroke-width="0.35"/><rect x="7.2" y="4.5" width="2.9" height="4" fill="url(#gG)" stroke="#4f944f" stroke-width="0.35"/><rect x="0.2" y="7.9" width="10" height="0.8" fill="#3c3f55" opacity="0.5"/></svg></div>
<div class="row" style="top:248.37px"><svg class="snd" width="6.5" height="7.4" viewBox="0 0 6.5 7.4"><path d="M1.15 1.3A3 3 0 0 1 1.15 6.1" fill="none" stroke="#a0a5b6" stroke-width="0.8"/><path d="M3.94 0.43A4.4 4.4 0 0 1 3.94 6.97" fill="none" stroke="#959bae" stroke-width="0.95"/></svg><div class="c cur">GBP</div><svg class="imp" width="9.6" height="8.4" viewBox="0 0 9.6 8.4"><g fill="#efe357" stroke="#bdaa2e" stroke-width="0.45" opacity="0.55"><path d="M0.5 1.6V0.9Q0.5 0.5 0.9 0.5H2Q2.4 0.5 2.4 0.9V1.6Z"/><path d="M3.8 1.6V0.9Q3.8 0.5 4.2 0.5H5.3Q5.7 0.5 5.7 0.9V1.6Z"/><path d="M7.1 1.6V0.9Q7.1 0.5 7.5 0.5H8.6Q9 0.5 9 0.9V1.6Z"/></g><rect x="0.45" y="1.35" width="8.6" height="6.55" fill="#efe357" stroke="#bdaa2e" stroke-width="0.5"/><rect x="0.7" y="7.2" width="8.1" height="0.6" fill="#bdaa2e" opacity="0.6"/></svg><div class="c ev">PPI Output m/m</div><svg class="fold" width="9.6" height="8.4" viewBox="0 0 10 8.4" preserveAspectRatio="none"><path d="M1.3 0.6H3.6Q4 0.6 4.3 1L4.7 1.5H8.4Q9.3 1.5 9.3 2.4V7Q9.3 7.8 8.4 7.8H1.3Q0.5 7.8 0.5 7V1.4Q0.5 0.6 1.3 0.6Z" fill="url(#fg)" stroke="#c2a259" stroke-width="0.6"/><path d="M1.2 2.2H8.6" stroke="#fffbe8" stroke-width="0.5" opacity="0.7"/></svg><div class="c fc">0.1%</div><div class="c pv">0.4%</div><svg class="gr" width="11" height="9" viewBox="0 0 11 9"><rect x="0.35" y="2.2" width="3.2" height="6.3" fill="url(#gR)" stroke="#c04848" stroke-width="0.35"/><rect x="3.6" y="0.1" width="3.5" height="8.4" fill="url(#gB)" stroke="#4a68b4" stroke-width="0.35"/><rect x="7.2" y="4.5" width="2.9" height="4" fill="url(#gG)" stroke="#4f944f" stroke-width="0.35"/><rect x="0.2" y="7.9" width="10" height="0.8" fill="#3c3f55" opacity="0.5"/></svg></div>
<div class="row" style="top:266.04px"><svg class="snd" width="6.5" height="7.4" viewBox="0 0 6.5 7.4"><path d="M1.15 1.3A3 3 0 0 1 1.15 6.1" fill="none" stroke="#a0a5b6" stroke-width="0.8"/><path d="M3.94 0.43A4.4 4.4 0 0 1 3.94 6.97" fill="none" stroke="#959bae" stroke-width="0.95"/></svg><div class="c cur">GBP</div><svg class="imp" width="9.6" height="8.4" viewBox="0 0 9.6 8.4"><g fill="#efe357" stroke="#bdaa2e" stroke-width="0.45" opacity="0.55"><path d="M0.5 1.6V0.9Q0.5 0.5 0.9 0.5H2Q2.4 0.5 2.4 0.9V1.6Z"/><path d="M3.8 1.6V0.9Q3.8 0.5 4.2 0.5H5.3Q5.7 0.5 5.7 0.9V1.6Z"/><path d="M7.1 1.6V0.9Q7.1 0.5 7.5 0.5H8.6Q9 0.5 9 0.9V1.6Z"/></g><rect x="0.45" y="1.35" width="8.6" height="6.55" fill="#efe357" stroke="#bdaa2e" stroke-width="0.5"/><rect x="0.7" y="7.2" width="8.1" height="0.6" fill="#bdaa2e" opacity="0.6"/></svg><div class="c ev">RPI y/y</div><svg class="fold" width="9.6" height="8.4" viewBox="0 0 10 8.4" preserveAspectRatio="none"><path d="M1.3 0.6H3.6Q4 0.6 4.3 1L4.7 1.5H8.4Q9.3 1.5 9.3 2.4V7Q9.3 7.8 8.4 7.8H1.3Q0.5 7.8 0.5 7V1.4Q0.5 0.6 1.3 0.6Z" fill="url(#fg)" stroke="#c2a259" stroke-width="0.6"/><path d="M1.2 2.2H8.6" stroke="#fffbe8" stroke-width="0.5" opacity="0.7"/></svg><div class="c fc">6.3%</div><div class="c pv">8.9%</div><svg class="gr" width="11" height="9" viewBox="0 0 11 9"><rect x="0.35" y="2.2" width="3.2" height="6.3" fill="url(#gR)" stroke="#c04848" stroke-width="0.35"/><rect x="3.6" y="0.1" width="3.5" height="8.4" fill="url(#gB)" stroke="#4a68b4" stroke-width="0.35"/><rect x="7.2" y="4.5" width="2.9" height="4" fill="url(#gG)" stroke="#4f944f" stroke-width="0.35"/><rect x="0.2" y="7.9" width="10" height="0.8" fill="#3c3f55" opacity="0.5"/></svg><div class="sep"></div></div>
<div class="row" style="top:283.71px"><div class="c time">9<span class="cl">:</span>45am</div><svg class="snd" width="6.5" height="7.4" viewBox="0 0 6.5 7.4"><path d="M1.15 1.3A3 3 0 0 1 1.15 6.1" fill="none" stroke="#a0a5b6" stroke-width="0.8"/><path d="M3.94 0.43A4.4 4.4 0 0 1 3.94 6.97" fill="none" stroke="#959bae" stroke-width="0.95"/></svg><div class="c cur">EUR</div><svg class="imp" width="9.6" height="8.4" viewBox="0 0 9.6 8.4"><g fill="#efe357" stroke="#bdaa2e" stroke-width="0.45" opacity="0.55"><path d="M0.5 1.6V0.9Q0.5 0.5 0.9 0.5H2Q2.4 0.5 2.4 0.9V1.6Z"/><path d="M3.8 1.6V0.9Q3.8 0.5 4.2 0.5H5.3Q5.7 0.5 5.7 0.9V1.6Z"/><path d="M7.1 1.6V0.9Q7.1 0.5 7.5 0.5H8.6Q9 0.5 9 0.9V1.6Z"/></g><rect x="0.45" y="1.35" width="8.6" height="6.55" fill="#efe357" stroke="#bdaa2e" stroke-width="0.5"/><rect x="0.7" y="7.2" width="8.1" height="0.6" fill="#bdaa2e" opacity="0.6"/></svg><div class="c ev">French Final CPI m/m</div><svg class="fold" width="9.6" height="8.4" viewBox="0 0 10 8.4" preserveAspectRatio="none"><path d="M1.3 0.6H3.6Q4 0.6 4.3 1L4.7 1.5H8.4Q9.3 1.5 9.3 2.4V7Q9.3 7.8 8.4 7.8H1.3Q0.5 7.8 0.5 7V1.4Q0.5 0.6 1.3 0.6Z" fill="url(#fg)" stroke="#c2a259" stroke-width="0.6"/><path d="M1.2 2.2H8.6" stroke="#fffbe8" stroke-width="0.5" opacity="0.7"/></svg><div class="c fc">0.1%</div><div class="c pv">0.1%</div><svg class="gr" width="11" height="9" viewBox="0 0 11 9"><rect x="0.35" y="2.2" width="3.2" height="6.3" fill="url(#gR)" stroke="#c04848" stroke-width="0.35"/><rect x="3.6" y="0.1" width="3.5" height="8.4" fill="url(#gB)" stroke="#4a68b4" stroke-width="0.35"/><rect x="7.2" y="4.5" width="2.9" height="4" fill="url(#gG)" stroke="#4f944f" stroke-width="0.35"/><rect x="0.2" y="7.9" width="10" height="0.8" fill="#3c3f55" opacity="0.5"/></svg><div class="sep"></div></div>
<div class="row" style="top:301.38px"><div class="c time">11<span class="cl">:</span>30am</div><svg class="snd" width="6.5" height="7.4" viewBox="0 0 6.5 7.4"><path d="M1.15 1.3A3 3 0 0 1 1.15 6.1" fill="none" stroke="#a0a5b6" stroke-width="0.8"/><path d="M3.94 0.43A4.4 4.4 0 0 1 3.94 6.97" fill="none" stroke="#959bae" stroke-width="0.95"/></svg><div class="c cur">GBP</div><svg class="imp" width="9.6" height="8.4" viewBox="0 0 9.6 8.4"><g fill="#efe357" stroke="#bdaa2e" stroke-width="0.45" opacity="0.55"><path d="M0.5 1.6V0.9Q0.5 0.5 0.9 0.5H2Q2.4 0.5 2.4 0.9V1.6Z"/><path d="M3.8 1.6V0.9Q3.8 0.5 4.2 0.5H5.3Q5.7 0.5 5.7 0.9V1.6Z"/><path d="M7.1 1.6V0.9Q7.1 0.5 7.5 0.5H8.6Q9 0.5 9 0.9V1.6Z"/></g><rect x="0.45" y="1.35" width="8.6" height="6.55" fill="#efe357" stroke="#bdaa2e" stroke-width="0.5"/><rect x="0.7" y="7.2" width="8.1" height="0.6" fill="#bdaa2e" opacity="0.6"/></svg><div class="c ev">HPI y/y</div><svg class="fold" width="9.6" height="8.4" viewBox="0 0 10 8.4" preserveAspectRatio="none"><path d="M1.3 0.6H3.6Q4 0.6 4.3 1L4.7 1.5H8.4Q9.3 1.5 9.3 2.4V7Q9.3 7.8 8.4 7.8H1.3Q0.5 7.8 0.5 7V1.4Q0.5 0.6 1.3 0.6Z" fill="url(#fg)" stroke="#c2a259" stroke-width="0.6"/><path d="M1.2 2.2H8.6" stroke="#fffbe8" stroke-width="0.5" opacity="0.7"/></svg><div class="c fc">-0.8%</div><div class="c pv">0.2%</div><svg class="gr" width="11" height="9" viewBox="0 0 11 9"><rect x="0.35" y="2.2" width="3.2" height="6.3" fill="url(#gR)" stroke="#c04848" stroke-width="0.35"/><rect x="3.6" y="0.1" width="3.5" height="8.4" fill="url(#gB)" stroke="#4a68b4" stroke-width="0.35"/><rect x="7.2" y="4.5" width="2.9" height="4" fill="url(#gG)" stroke="#4f944f" stroke-width="0.35"/><rect x="0.2" y="7.9" width="10" height="0.8" fill="#3c3f55" opacity="0.5"/></svg><div class="sep"></div></div>
<div class="row" style="top:319.05px"><div class="c time">12<span class="cl">:</span>00pm</div><svg class="snd" width="6.5" height="7.4" viewBox="0 0 6.5 7.4"><path d="M1.15 1.3A3 3 0 0 1 1.15 6.1" fill="none" stroke="#a0a5b6" stroke-width="0.8"/><path d="M3.94 0.43A4.4 4.4 0 0 1 3.94 6.97" fill="none" stroke="#959bae" stroke-width="0.95"/></svg><div class="c cur">EUR</div><svg class="imp" width="9.6" height="8.4" viewBox="0 0 9.6 8.4"><g fill="#efe357" stroke="#bdaa2e" stroke-width="0.45" opacity="0.55"><path d="M0.5 1.6V0.9Q0.5 0.5 0.9 0.5H2Q2.4 0.5 2.4 0.9V1.6Z"/><path d="M3.8 1.6V0.9Q3.8 0.5 4.2 0.5H5.3Q5.7 0.5 5.7 0.9V1.6Z"/><path d="M7.1 1.6V0.9Q7.1 0.5 7.5 0.5H8.6Q9 0.5 9 0.9V1.6Z"/></g><rect x="0.45" y="1.35" width="8.6" height="6.55" fill="#efe357" stroke="#bdaa2e" stroke-width="0.5"/><rect x="0.7" y="7.2" width="8.1" height="0.6" fill="#bdaa2e" opacity="0.6"/></svg><div class="c ev">Industrial Production m/m</div><svg class="fold" width="9.6" height="8.4" viewBox="0 0 10 8.4" preserveAspectRatio="none"><path d="M1.3 0.6H3.6Q4 0.6 4.3 1L4.7 1.5H8.4Q9.3 1.5 9.3 2.4V7Q9.3 7.8 8.4 7.8H1.3Q0.5 7.8 0.5 7V1.4Q0.5 0.6 1.3 0.6Z" fill="url(#fg)" stroke="#c2a259" stroke-width="0.6"/><path d="M1.2 2.2H8.6" stroke="#fffbe8" stroke-width="0.5" opacity="0.7"/></svg><div class="c fc">-0.9%</div><div class="c pv">0.6%</div><svg class="gr" width="11" height="9" viewBox="0 0 11 9"><rect x="0.35" y="2.2" width="3.2" height="6.3" fill="url(#gR)" stroke="#c04848" stroke-width="0.35"/><rect x="3.6" y="0.1" width="3.5" height="8.4" fill="url(#gB)" stroke="#4a68b4" stroke-width="0.35"/><rect x="7.2" y="4.5" width="2.9" height="4" fill="url(#gG)" stroke="#4f944f" stroke-width="0.35"/><rect x="0.2" y="7.9" width="10" height="0.8" fill="#3c3f55" opacity="0.5"/></svg></div>
<div class="row" style="top:336.72px"><svg class="snd" width="6.5" height="7.4" viewBox="0 0 6.5 7.4"><path d="M1.15 1.3A3 3 0 0 1 1.15 6.1" fill="none" stroke="#a0a5b6" stroke-width="0.8"/><path d="M3.94 0.43A4.4 4.4 0 0 1 3.94 6.97" fill="none" stroke="#959bae" stroke-width="0.95"/></svg><div class="c cur">EUR</div><svg class="imp" width="9.6" height="8.4" viewBox="0 0 9.6 8.4"><g fill="#efe357" stroke="#bdaa2e" stroke-width="0.45" opacity="0.55"><path d="M0.5 1.6V0.9Q0.5 0.5 0.9 0.5H2Q2.4 0.5 2.4 0.9V1.6Z"/><path d="M3.8 1.6V0.9Q3.8 0.5 4.2 0.5H5.3Q5.7 0.5 5.7 0.9V1.6Z"/><path d="M7.1 1.6V0.9Q7.1 0.5 7.5 0.5H8.6Q9 0.5 9 0.9V1.6Z"/></g><rect x="0.45" y="1.35" width="8.6" height="6.55" fill="#efe357" stroke="#bdaa2e" stroke-width="0.5"/><rect x="0.7" y="7.2" width="8.1" height="0.6" fill="#bdaa2e" opacity="0.6"/></svg><div class="c ev">Trade Balance</div><svg class="fold" width="9.6" height="8.4" viewBox="0 0 10 8.4" preserveAspectRatio="none"><path d="M1.3 0.6H3.6Q4 0.6 4.3 1L4.7 1.5H8.4Q9.3 1.5 9.3 2.4V7Q9.3 7.8 8.4 7.8H1.3Q0.5 7.8 0.5 7V1.4Q0.5 0.6 1.3 0.6Z" fill="url(#fg)" stroke="#c2a259" stroke-width="0.6"/><path d="M1.2 2.2H8.6" stroke="#fffbe8" stroke-width="0.5" opacity="0.7"/></svg><div class="c fc">6.6B</div><div class="c pv">11.9B</div><svg class="gr" width="11" height="9" viewBox="0 0 11 9"><rect x="0.35" y="2.2" width="3.2" height="6.3" fill="url(#gR)" stroke="#c04848" stroke-width="0.35"/><rect x="3.6" y="0.1" width="3.5" height="8.4" fill="url(#gB)" stroke="#4a68b4" stroke-width="0.35"/><rect x="7.2" y="4.5" width="2.9" height="4" fill="url(#gG)" stroke="#4f944f" stroke-width="0.35"/><rect x="0.2" y="7.9" width="10" height="0.8" fill="#3c3f55" opacity="0.5"/></svg><div class="sep"></div></div>
<div class="row" style="top:354.39px"><div class="c time">Tentative</div><svg class="snd" width="6.5" height="7.4" viewBox="0 0 6.5 7.4"><path d="M1.15 1.3A3 3 0 0 1 1.15 6.1" fill="none" stroke="#a0a5b6" stroke-width="0.8"/><path d="M3.94 0.43A4.4 4.4 0 0 1 3.94 6.97" fill="none" stroke="#959bae" stroke-width="0.95"/></svg><div class="c cur">EUR</div><svg class="imp" width="9.6" height="8.4" viewBox="0 0 9.6 8.4"><g fill="#efe357" stroke="#bdaa2e" stroke-width="0.45" opacity="0.55"><path d="M0.5 1.6V0.9Q0.5 0.5 0.9 0.5H2Q2.4 0.5 2.4 0.9V1.6Z"/><path d="M3.8 1.6V0.9Q3.8 0.5 4.2 0.5H5.3Q5.7 0.5 5.7 0.9V1.6Z"/><path d="M7.1 1.6V0.9Q7.1 0.5 7.5 0.5H8.6Q9 0.5 9 0.9V1.6Z"/></g><rect x="0.45" y="1.35" width="8.6" height="6.55" fill="#efe357" stroke="#bdaa2e" stroke-width="0.5"/><rect x="0.7" y="7.2" width="8.1" height="0.6" fill="#bdaa2e" opacity="0.6"/></svg><div class="c ev">German 30-y Bond Auction</div><svg class="fold" width="9.6" height="8.4" viewBox="0 0 10 8.4" preserveAspectRatio="none"><path d="M1.3 0.6H3.6Q4 0.6 4.3 1L4.7 1.5H8.4Q9.3 1.5 9.3 2.4V7Q9.3 7.8 8.4 7.8H1.3Q0.5 7.8 0.5 7V1.4Q0.5 0.6 1.3 0.6Z" fill="url(#fg)" stroke="#c2a259" stroke-width="0.6"/><path d="M1.2 2.2H8.6" stroke="#fffbe8" stroke-width="0.5" opacity="0.7"/></svg><div class="c pv">3.04|2.1</div><div class="sep"></div></div>
<div class="row" style="top:372.06px"><div class="c time">3<span class="cl">:</span>30pm</div><svg class="snd" width="6.5" height="7.4" viewBox="0 0 6.5 7.4"><path d="M1.15 1.3A3 3 0 0 1 1.15 6.1" fill="none" stroke="#a0a5b6" stroke-width="0.8"/><path d="M3.94 0.43A4.4 4.4 0 0 1 3.94 6.97" fill="none" stroke="#959bae" stroke-width="0.95"/></svg><div class="c cur">CAD</div><svg class="imp" width="9.6" height="8.4" viewBox="0 0 9.6 8.4"><g fill="#efe357" stroke="#bdaa2e" stroke-width="0.45" opacity="0.55"><path d="M0.5 1.6V0.9Q0.5 0.5 0.9 0.5H2Q2.4 0.5 2.4 0.9V1.6Z"/><path d="M3.8 1.6V0.9Q3.8 0.5 4.2 0.5H5.3Q5.7 0.5 5.7 0.9V1.6Z"/><path d="M7.1 1.6V0.9Q7.1 0.5 7.5 0.5H8.6Q9 0.5 9 0.9V1.6Z"/></g><rect x="0.45" y="1.35" width="8.6" height="6.55" fill="#efe357" stroke="#bdaa2e" stroke-width="0.5"/><rect x="0.7" y="7.2" width="8.1" height="0.6" fill="#bdaa2e" opacity="0.6"/></svg><div class="c ev">Manufacturing Sales m/m</div><svg class="fold" width="9.6" height="8.4" viewBox="0 0 10 8.4" preserveAspectRatio="none"><path d="M1.3 0.6H3.6Q4 0.6 4.3 1L4.7 1.5H8.4Q9.3 1.5 9.3 2.4V7Q9.3 7.8 8.4 7.8H1.3Q0.5 7.8 0.5 7V1.4Q0.5 0.6 1.3 0.6Z" fill="url(#fg)" stroke="#c2a259" stroke-width="0.6"/><path d="M1.2 2.2H8.6" stroke="#fffbe8" stroke-width="0.5" opacity="0.7"/></svg><div class="c fc">0.0%</div><div class="c pv">0.7%</div><svg class="gr" width="11" height="9" viewBox="0 0 11 9"><rect x="0.35" y="2.2" width="3.2" height="6.3" fill="url(#gR)" stroke="#c04848" stroke-width="0.35"/><rect x="3.6" y="0.1" width="3.5" height="8.4" fill="url(#gB)" stroke="#4a68b4" stroke-width="0.35"/><rect x="7.2" y="4.5" width="2.9" height="4" fill="url(#gG)" stroke="#4f944f" stroke-width="0.35"/><rect x="0.2" y="7.9" width="10" height="0.8" fill="#3c3f55" opacity="0.5"/></svg></div>
<div class="row" style="top:389.73px"><svg class="snd" width="6.5" height="7.4" viewBox="0 0 6.5 7.4"><path d="M1.15 1.3A3 3 0 0 1 1.15 6.1" fill="none" stroke="#a0a5b6" stroke-width="0.8"/><path d="M3.94 0.43A4.4 4.4 0 0 1 3.94 6.97" fill="none" stroke="#959bae" stroke-width="0.95"/></svg><div class="c cur">CAD</div><svg class="imp" width="9.6" height="8.4" viewBox="0 0 9.6 8.4"><g fill="#efe357" stroke="#bdaa2e" stroke-width="0.45" opacity="0.55"><path d="M0.5 1.6V0.9Q0.5 0.5 0.9 0.5H2Q2.4 0.5 2.4 0.9V1.6Z"/><path d="M3.8 1.6V0.9Q3.8 0.5 4.2 0.5H5.3Q5.7 0.5 5.7 0.9V1.6Z"/><path d="M7.1 1.6V0.9Q7.1 0.5 7.5 0.5H8.6Q9 0.5 9 0.9V1.6Z"/></g><rect x="0.45" y="1.35" width="8.6" height="6.55" fill="#efe357" stroke="#bdaa2e" stroke-width="0.5"/><rect x="0.7" y="7.2" width="8.1" height="0.6" fill="#bdaa2e" opacity="0.6"/></svg><div class="c ev">Wholesale Sales m/m</div><svg class="fold" width="9.6" height="8.4" viewBox="0 0 10 8.4" preserveAspectRatio="none"><path d="M1.3 0.6H3.6Q4 0.6 4.3 1L4.7 1.5H8.4Q9.3 1.5 9.3 2.4V7Q9.3 7.8 8.4 7.8H1.3Q0.5 7.8 0.5 7V1.4Q0.5 0.6 1.3 0.6Z" fill="url(#fg)" stroke="#c2a259" stroke-width="0.6"/><path d="M1.2 2.2H8.6" stroke="#fffbe8" stroke-width="0.5" opacity="0.7"/></svg><div class="c fc">0.1%</div><div class="c pv">2.3%</div><svg class="gr" width="11" height="9" viewBox="0 0 11 9"><rect x="0.35" y="2.2" width="3.2" height="6.3" fill="url(#gR)" stroke="#c04848" stroke-width="0.35"/><rect x="3.6" y="0.1" width="3.5" height="8.4" fill="url(#gB)" stroke="#4a68b4" stroke-width="0.35"/><rect x="7.2" y="4.5" width="2.9" height="4" fill="url(#gG)" stroke="#4f944f" stroke-width="0.35"/><rect x="0.2" y="7.9" width="10" height="0.8" fill="#3c3f55" opacity="0.5"/></svg></div>
<div class="row" style="top:407.40px"><svg class="snd" width="6.5" height="7.4" viewBox="0 0 6.5 7.4"><path d="M1.15 1.3A3 3 0 0 1 1.15 6.1" fill="none" stroke="#a0a5b6" stroke-width="0.8"/><path d="M3.94 0.43A4.4 4.4 0 0 1 3.94 6.97" fill="none" stroke="#959bae" stroke-width="0.95"/></svg><div class="c cur">USD</div><svg class="imp" width="9.6" height="8.4" viewBox="0 0 9.6 8.4"><g fill="#dc281e" stroke="#a3160e" stroke-width="0.45" opacity="1"><path d="M0.5 1.6V0.9Q0.5 0.5 0.9 0.5H2Q2.4 0.5 2.4 0.9V1.6Z"/><path d="M3.8 1.6V0.9Q3.8 0.5 4.2 0.5H5.3Q5.7 0.5 5.7 0.9V1.6Z"/><path d="M7.1 1.6V0.9Q7.1 0.5 7.5 0.5H8.6Q9 0.5 9 0.9V1.6Z"/></g><rect x="0.45" y="1.35" width="8.6" height="6.55" fill="#dc281e" stroke="#a3160e" stroke-width="0.5"/><rect x="0.7" y="7.2" width="8.1" height="0.6" fill="#a3160e" opacity="0.6"/></svg><div class="c ev">Core PPI m/m</div><svg class="fold o" width="11" height="10" viewBox="0 0 11 10"><ellipse cx="7.5" cy="4" rx="2.9" ry="3.1" fill="#d3def3" stroke="#8399c8" stroke-width="0.9"/><path d="M1.1 3.4H3.2Q3.6 3.4 3.9 3.8L4.2 4.2H7.8Q8.6 4.2 8.6 5V8.7Q8.6 9.4 7.8 9.4H1.1Q0.4 9.4 0.4 8.7V4.1Q0.4 3.4 1.1 3.4Z" fill="url(#fg)" stroke="#c2a259" stroke-width="0.6"/><path d="M0.6 5.6H8.4" stroke="#c2a259" stroke-width="0.4" opacity="0.6"/></svg><div class="c fc">0.3%</div><div class="c pv">0.3%</div><svg class="gr" width="11" height="9" viewBox="0 0 11 9"><rect x="0.35" y="2.2" width="3.2" height="6.3" fill="url(#gR)" stroke="#c04848" stroke-width="0.35"/><rect x="3.6" y="0.1" width="3.5" height="8.4" fill="url(#gB)" stroke="#4a68b4" stroke-width="0.35"/><rect x="7.2" y="4.5" width="2.9" height="4" fill="url(#gG)" stroke="#4f944f" stroke-width="0.35"/><rect x="0.2" y="7.9" width="10" height="0.8" fill="#3c3f55" opacity="0.5"/></svg></div>
<div class="row" style="top:425.07px"><svg class="snd" width="6.5" height="7.4" viewBox="0 0 6.5 7.4"><path d="M1.15 1.3A3 3 0 0 1 1.15 6.1" fill="none" stroke="#a0a5b6" stroke-width="0.8"/><path d="M3.94 0.43A4.4 4.4 0 0 1 3.94 6.97" fill="none" stroke="#959bae" stroke-width="0.95"/></svg><div class="c cur">USD</div><svg class="imp" width="9.6" height="8.4" viewBox="0 0 9.6 8.4"><g fill="#dc281e" stroke="#a3160e" stroke-width="0.45" opacity="1"><path d="M0.5 1.6V0.9Q0.5 0.5 0.9 0.5H2Q2.4 0.5 2.4 0.9V1.6Z"/><path d="M3.8 1.6V0.9Q3.8 0.5 4.2 0.5H5.3Q5.7 0.5 5.7 0.9V1.6Z"/><path d="M7.1 1.6V0.9Q7.1 0.5 7.5 0.5H8.6Q9 0.5 9 0.9V1.6Z"/></g><rect x="0.45" y="1.35" width="8.6" height="6.55" fill="#dc281e" stroke="#a3160e" stroke-width="0.5"/><rect x="0.7" y="7.2" width="8.1" height="0.6" fill="#a3160e" opacity="0.6"/></svg><div class="c ev">Core Retail Sales m/m</div><svg class="fold o" width="11" height="10" viewBox="0 0 11 10"><ellipse cx="7.5" cy="4" rx="2.9" ry="3.1" fill="#d3def3" stroke="#8399c8" stroke-width="0.9"/><path d="M1.1 3.4H3.2Q3.6 3.4 3.9 3.8L4.2 4.2H7.8Q8.6 4.2 8.6 5V8.7Q8.6 9.4 7.8 9.4H1.1Q0.4 9.4 0.4 8.7V4.1Q0.4 3.4 1.1 3.4Z" fill="url(#fg)" stroke="#c2a259" stroke-width="0.6"/><path d="M0.6 5.6H8.4" stroke="#c2a259" stroke-width="0.4" opacity="0.6"/></svg><div class="c fc">-0.1%</div><div class="c pv">0.6%</div><svg class="gr" width="11" height="9" viewBox="0 0 11 9"><rect x="0.35" y="2.2" width="3.2" height="6.3" fill="url(#gR)" stroke="#c04848" stroke-width="0.35"/><rect x="3.6" y="0.1" width="3.5" height="8.4" fill="url(#gB)" stroke="#4a68b4" stroke-width="0.35"/><rect x="7.2" y="4.5" width="2.9" height="4" fill="url(#gG)" stroke="#4f944f" stroke-width="0.35"/><rect x="0.2" y="7.9" width="10" height="0.8" fill="#3c3f55" opacity="0.5"/></svg></div>
<div class="row" style="top:442.74px"><svg class="snd" width="6.5" height="7.4" viewBox="0 0 6.5 7.4"><path d="M1.15 1.3A3 3 0 0 1 1.15 6.1" fill="none" stroke="#a0a5b6" stroke-width="0.8"/><path d="M3.94 0.43A4.4 4.4 0 0 1 3.94 6.97" fill="none" stroke="#959bae" stroke-width="0.95"/></svg><div class="c cur">USD</div><svg class="imp" width="9.6" height="8.4" viewBox="0 0 9.6 8.4"><g fill="#dc281e" stroke="#a3160e" stroke-width="0.45" opacity="1"><path d="M0.5 1.6V0.9Q0.5 0.5 0.9 0.5H2Q2.4 0.5 2.4 0.9V1.6Z"/><path d="M3.8 1.6V0.9Q3.8 0.5 4.2 0.5H5.3Q5.7 0.5 5.7 0.9V1.6Z"/><path d="M7.1 1.6V0.9Q7.1 0.5 7.5 0.5H8.6Q9 0.5 9 0.9V1.6Z"/></g><rect x="0.45" y="1.35" width="8.6" height="6.55" fill="#dc281e" stroke="#a3160e" stroke-width="0.5"/><rect x="0.7" y="7.2" width="8.1" height="0.6" fill="#a3160e" opacity="0.6"/></svg><div class="c ev">Empire State Manufacturing Index</div><svg class="fold" width="9.6" height="8.4" viewBox="0 0 10 8.4" preserveAspectRatio="none"><path d="M1.3 0.6H3.6Q4 0.6 4.3 1L4.7 1.5H8.4Q9.3 1.5 9.3 2.4V7Q9.3 7.8 8.4 7.8H1.3Q0.5 7.8 0.5 7V1.4Q0.5 0.6 1.3 0.6Z" fill="url(#fg)" stroke="#c2a259" stroke-width="0.6"/><path d="M1.2 2.2H8.6" stroke="#fffbe8" stroke-width="0.5" opacity="0.7"/></svg><div class="c fc">-3.3</div><div class="c pv">-4.6</div><svg class="gr" width="11" height="9" viewBox="0 0 11 9"><rect x="0.35" y="2.2" width="3.2" height="6.3" fill="url(#gR)" stroke="#c04848" stroke-width="0.35"/><rect x="3.6" y="0.1" width="3.5" height="8.4" fill="url(#gB)" stroke="#4a68b4" stroke-width="0.35"/><rect x="7.2" y="4.5" width="2.9" height="4" fill="url(#gG)" stroke="#4f944f" stroke-width="0.35"/><rect x="0.2" y="7.9" width="10" height="0.8" fill="#3c3f55" opacity="0.5"/></svg></div>
<div class="row" style="top:460.41px"><svg class="snd" width="6.5" height="7.4" viewBox="0 0 6.5 7.4"><path d="M1.15 1.3A3 3 0 0 1 1.15 6.1" fill="none" stroke="#a0a5b6" stroke-width="0.8"/><path d="M3.94 0.43A4.4 4.4 0 0 1 3.94 6.97" fill="none" stroke="#959bae" stroke-width="0.95"/></svg><div class="c cur">USD</div><svg class="imp" width="9.6" height="8.4" viewBox="0 0 9.6 8.4"><g fill="#dc281e" stroke="#a3160e" stroke-width="0.45" opacity="1"><path d="M0.5 1.6V0.9Q0.5 0.5 0.9 0.5H2Q2.4 0.5 2.4 0.9V1.6Z"/><path d="M3.8 1.6V0.9Q3.8 0.5 4.2 0.5H5.3Q5.7 0.5 5.7 0.9V1.6Z"/><path d="M7.1 1.6V0.9Q7.1 0.5 7.5 0.5H8.6Q9 0.5 9 0.9V1.6Z"/></g><rect x="0.45" y="1.35" width="8.6" height="6.55" fill="#dc281e" stroke="#a3160e" stroke-width="0.5"/><rect x="0.7" y="7.2" width="8.1" height="0.6" fill="#a3160e" opacity="0.6"/></svg><div class="c ev">PPI m/m</div><svg class="fold o" width="11" height="10" viewBox="0 0 11 10"><ellipse cx="7.5" cy="4" rx="2.9" ry="3.1" fill="#d3def3" stroke="#8399c8" stroke-width="0.9"/><path d="M1.1 3.4H3.2Q3.6 3.4 3.9 3.8L4.2 4.2H7.8Q8.6 4.2 8.6 5V8.7Q8.6 9.4 7.8 9.4H1.1Q0.4 9.4 0.4 8.7V4.1Q0.4 3.4 1.1 3.4Z" fill="url(#fg)" stroke="#c2a259" stroke-width="0.6"/><path d="M0.6 5.6H8.4" stroke="#c2a259" stroke-width="0.4" opacity="0.6"/></svg><div class="c fc">0.1%</div><div class="c pv">0.5%</div><svg class="gr" width="11" height="9" viewBox="0 0 11 9"><rect x="0.35" y="2.2" width="3.2" height="6.3" fill="url(#gR)" stroke="#c04848" stroke-width="0.35"/><rect x="3.6" y="0.1" width="3.5" height="8.4" fill="url(#gB)" stroke="#4a68b4" stroke-width="0.35"/><rect x="7.2" y="4.5" width="2.9" height="4" fill="url(#gG)" stroke="#4f944f" stroke-width="0.35"/><rect x="0.2" y="7.9" width="10" height="0.8" fill="#3c3f55" opacity="0.5"/></svg></div>
<div class="row" style="top:478.08px"><svg class="snd" width="6.5" height="7.4" viewBox="0 0 6.5 7.4"><path d="M1.15 1.3A3 3 0 0 1 1.15 6.1" fill="none" stroke="#a0a5b6" stroke-width="0.8"/><path d="M3.94 0.43A4.4 4.4 0 0 1 3.94 6.97" fill="none" stroke="#959bae" stroke-width="0.95"/></svg><div class="c cur">USD</div><svg class="imp" width="9.6" height="8.4" viewBox="0 0 9.6 8.4"><g fill="#dc281e" stroke="#a3160e" stroke-width="0.45" opacity="1"><path d="M0.5 1.6V0.9Q0.5 0.5 0.9 0.5H2Q2.4 0.5 2.4 0.9V1.6Z"/><path d="M3.8 1.6V0.9Q3.8 0.5 4.2 0.5H5.3Q5.7 0.5 5.7 0.9V1.6Z"/><path d="M7.1 1.6V0.9Q7.1 0.5 7.5 0.5H8.6Q9 0.5 9 0.9V1.6Z"/></g><rect x="0.45" y="1.35" width="8.6" height="6.55" fill="#dc281e" stroke="#a3160e" stroke-width="0.5"/><rect x="0.7" y="7.2" width="8.1" height="0.6" fill="#a3160e" opacity="0.6"/></svg><div class="c ev">Retail Sales m/m</div><svg class="fold o" width="11" height="10" viewBox="0 0 11 10"><ellipse cx="7.5" cy="4" rx="2.9" ry="3.1" fill="#d3def3" stroke="#8399c8" stroke-width="0.9"/><path d="M1.1 3.4H3.2Q3.6 3.4 3.9 3.8L4.2 4.2H7.8Q8.6 4.2 8.6 5V8.7Q8.6 9.4 7.8 9.4H1.1Q0.4 9.4 0.4 8.7V4.1Q0.4 3.4 1.1 3.4Z" fill="url(#fg)" stroke="#c2a259" stroke-width="0.6"/><path d="M0.6 5.6H8.4" stroke="#c2a259" stroke-width="0.4" opacity="0.6"/></svg><div class="c fc">-0.3%</div><div class="c pv">0.7%</div><svg class="gr" width="11" height="9" viewBox="0 0 11 9"><rect x="0.35" y="2.2" width="3.2" height="6.3" fill="url(#gR)" stroke="#c04848" stroke-width="0.35"/><rect x="3.6" y="0.1" width="3.5" height="8.4" fill="url(#gB)" stroke="#4a68b4" stroke-width="0.35"/><rect x="7.2" y="4.5" width="2.9" height="4" fill="url(#gG)" stroke="#4f944f" stroke-width="0.35"/><rect x="0.2" y="7.9" width="10" height="0.8" fill="#3c3f55" opacity="0.5"/></svg></div>
<div id="shadow"></div>
<div id="lastsep"></div>
<div id="bfade"></div>
</body></html>
